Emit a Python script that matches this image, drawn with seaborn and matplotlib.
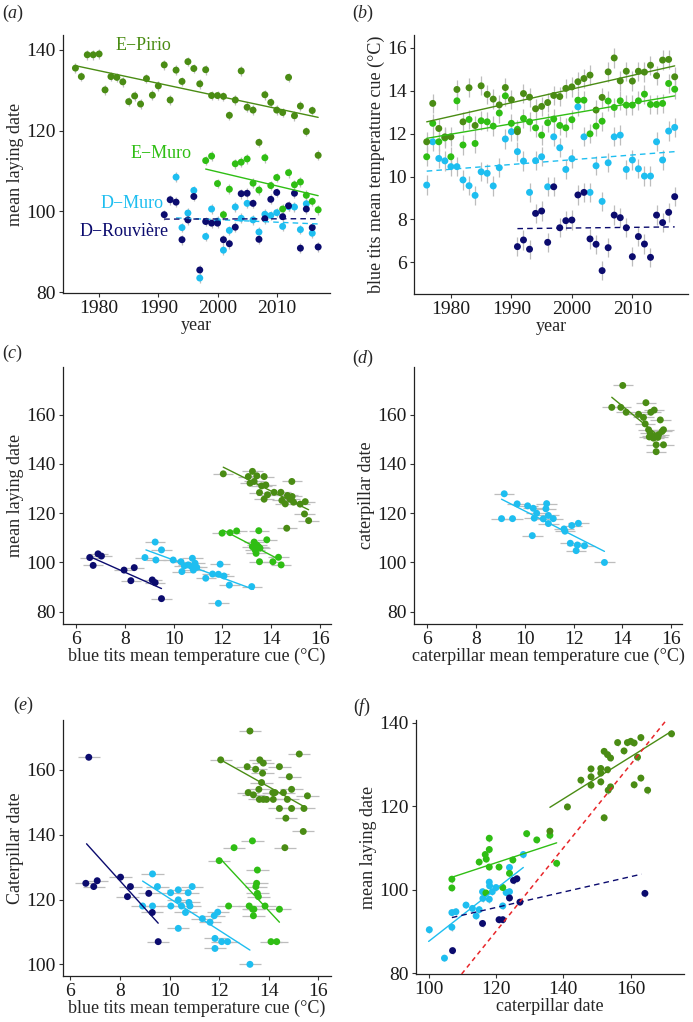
import numpy as np
import pandas as pd
import seaborn as sns
import matplotlib.pyplot as plt

sns.set_style("ticks")
plt.rcParams['font.family'] = ['Liberation Serif', 'DejaVu Serif']
plt.rcParams['mathtext.fontset'] = 'custom'
plt.rcParams['mathtext.rm'] = 'Liberation Serif'
plt.rcParams['mathtext.it'] = 'Liberation Serif:italic'

PIRIO, EMURO, DMURO, DROUV = 'E-Pirio', 'E-Muro', 'D-Muro', 'D-Rouvière'
pal = {PIRIO: '#4a8c14', EMURO: '#2fbe14', DMURO: '#1ebef0', DROUV: '#0b0b6e'}
order = [DMURO, DROUV, EMURO, PIRIO]

# ---- (a) mean laying date by year
a_years_pirio = list(range(1976, 2018))
a_pirio = [135.5, 133.4, 138.8, 138.8, 139.0, 130.1, 133.4, 133.2, 132.1, 127.2,
           128.6, 126.6, 132.9, 128.8, 131.1, 136.3, 127.6, 135.0, 132.2, 137.1,
           135.4, 131.6, 135.1, 128.7, 128.7, 128.5, 123.8, 127.6, 134.8, 125.8,
           125.1, 117.1, 128.9, 127.0, 125.1, 124.5, 133.2, 123.7, 126.1, 119.8,
           125.0, 113.9]
a_years_emuro = list(range(1998, 2018))
a_emuro = [112.6, 113.7, 106.9, 99.2, 105.5, 111.8, 112.2, 113.0, 107.0, 105.3,
           113.3, 106.4, 108.4, 100.6, 109.6, 106.6, 107.3, 104.0, 102.5, 100.4]
a_years_dmuro = list(range(1993, 2017))
a_dmuro = [108.5, 96.0, 99.6, 105.2, 83.5, 93.8, 100.6, 97.6, 90.4, 95.3,
           101.1, 98.3, 102.0, 97.9, 94.9, 99.3, 99.0, 99.7, 96.3, 101.2,
           101.1, 95.5, 101.9, 94.6]
a_years_drouv = list(range(1991, 2018))
a_drouv = [99.2, 102.9, 102.3, 93.0, 97.9, 103.7, 85.5, 97.5, 97.1, 97.1,
           93.0, 92.0, 96.1, 104.4, 104.5, 102.0, 93.1, 98.2, 103.0, 104.7,
           98.7, 101.4, 104.5, 90.9, 100.6, 96.0, 91.2]
a_fits = {PIRIO: ([1976, 2017], [136.1, 123.3]), EMURO: ([1998, 2017], [110.5, 103.9]),
          DMURO: ([1993, 2017], [98.4, 96.9]), DROUV: ([1991, 2017], [98.1, 98.2])}

# ---- (b) blue tits temperature cue by year
b_years = list(range(1976, 2018))
b_pirio = [11.62, 13.41, 12.24, 11.85, 11.85, 14.06, 12.55, 14.14, 12.38, 14.23,
           13.83, 13.61, 13.34, 14.15, 13.58, 12.09, 13.87, 13.70, 13.16, 13.27,
           13.45, 13.78, 13.73, 14.11, 14.18, 14.42, 14.57, 14.73, 13.10, 13.69,
           14.88, 15.53, 14.46, 14.91, 14.45, 14.91, 14.87, 15.19, 14.70, 15.43,
           15.46, 14.65]
b_emuro = [10.92, 12.48, 11.62, 11.80, 10.92, 13.53, 11.47, 12.66, 11.54, 12.60,
           12.55, 12.35, 12.96, 13.76, 12.48, 12.20, 12.71, 12.55, 12.27, 11.93,
           12.51, 12.68, 12.38, 12.27, 12.65, 13.56, 13.56, 11.99, 12.35, 12.58,
           13.52, 13.22, 13.53, 13.33, 13.33, 13.53, 13.84, 13.36, 13.36, 13.41,
           14.34, 14.07]
b_dmuro = [9.60, 11.62, 10.84, 10.73, 10.46, 10.46, 9.84, 9.57, 9.12, 10.22,
           10.15, 9.56, 10.41, 11.75, 12.09, 11.16, 10.72, 9.26, 10.74, 10.92,
           9.52, 11.85, 11.34, 10.33, 10.83, 13.25, 11.85, 9.26, 10.50, 8.84,
           10.64, 11.85, 11.93, 10.33, 10.77, 10.36, 10.02, 10.02, 11.62, 10.77,
           12.12, 12.29]
b_years_drouv = list(range(1991, 2018))
b_drouv = [6.73, 7.04, 6.61, 8.28, 8.39, 6.93, 9.52, 7.61, 7.94, 7.97,
           9.14, 9.26, 7.09, 6.84, 5.61, 6.68, 8.20, 8.08, 7.61, 6.26,
           7.20, 6.85, 6.23, 8.20, 7.85, 8.33, 9.06]
b_fits = {PIRIO: ([1976, 2017], [12.55, 15.16]), EMURO: ([1976, 2017], [11.78, 13.76]),
          DMURO: ([1976, 2017], [10.25, 11.16]), DROUV: ([1991, 2017], [7.57, 7.65])}

# ---- (c) laying date vs blue tits temperature cue
c_drouv_x = [6.55, 6.69, 6.89, 7.03, 7.96, 8.24, 8.38, 9.12, 9.24, 9.50]
c_drouv_y = [102.0, 98.8, 103.5, 102.6, 96.9, 92.6, 97.9, 92.9, 91.8, 85.3]
c_dmuro_x = [8.82, 9.24, 9.50, 9.27, 9.98, 10.30, 10.34, 10.44, 10.60, 10.74, 10.77,
             10.81, 10.88, 10.95, 11.32, 11.60, 11.84, 11.91, 11.84, 12.07, 12.29, 13.21]
c_dmuro_y = [102.0, 108.3, 105.1, 101.0, 101.0, 100.3, 96.3, 98.6, 99.0, 98.3, 101.7,
             96.9, 99.7, 98.0, 93.6, 95.3, 95.2, 99.3, 83.4, 94.5, 90.8, 90.2]
c_emuro_x = [11.99, 12.32, 12.59, 13.50, 13.31, 13.42, 13.24, 13.49, 13.35, 13.55,
             13.39, 13.53, 13.83, 14.08, 14.31, 14.42]
c_emuro_y = [111.9, 112.1, 112.8, 112.9, 108.3, 107.1, 106.4, 106.4, 105.1, 105.8,
             103.7, 100.3, 109.2, 100.3, 102.1, 99.0]
c_pirio_x = [12.04, 13.24, 13.07, 13.42, 13.72, 13.14, 13.31, 13.62, 13.79, 13.53,
             13.86, 13.72, 14.13, 14.41, 14.45, 14.59, 14.68, 14.79, 14.87, 14.86,
             14.93, 15.20, 15.41, 15.38, 15.55, 14.65]
c_pirio_y = [136.0, 137.0, 134.9, 135.2, 134.9, 132.2, 132.9, 131.1, 131.5, 128.4,
             127.5, 125.7, 128.5, 128.5, 125.2, 123.8, 127.2, 125.7, 126.8, 132.9,
             124.5, 123.7, 124.7, 119.7, 117.0, 113.9]
c_fits = {DROUV: ([6.55, 9.50], [102.4, 89.4]), DMURO: ([8.86, 13.28], [105.1, 89.1]),
          EMURO: ([12.02, 14.24], [113.2, 101.7]), PIRIO: ([12.04, 15.55], [138.7, 121.4])}

# ---- (d) caterpillar date vs caterpillar temperature cue
d_dmuro_x = [9.15, 9.04, 9.49, 9.68, 10.11, 10.34, 10.38, 10.48, 10.30, 10.89, 10.86,
             10.96, 10.75, 10.96, 11.16, 11.60, 11.64, 11.92, 12.19, 11.86, 12.15,
             12.10, 12.44, 13.26]
d_dmuro_y = [127.9, 117.8, 117.8, 123.8, 123.0, 122.0, 118.0, 120.0, 110.9, 123.9, 121.8,
             119.1, 117.7, 115.8, 117.8, 113.6, 112.7, 115.0, 115.9, 107.8, 107.1,
             104.8, 106.8, 100.0]
d_pirio_x = [14.01, 13.56, 13.93, 14.15, 14.66, 14.86, 14.96, 15.16, 15.30, 15.55,
             14.93, 15.07, 15.14, 15.21, 15.34, 15.48, 15.62, 15.68, 15.38, 15.68,
             15.38, 15.27, 15.45, 15.10]
d_pirio_y = [171.9, 163.0, 163.0, 161.0, 160.2, 158.9, 164.9, 161.0, 161.9, 157.9,
             156.3, 153.9, 152.5, 151.2, 151.2, 151.9, 153.2, 153.9, 147.8, 147.8,
             145.0, 150.5, 150.8, 151.0]
d_fits = {DMURO: ([9.04, 13.26], [125.7, 104.5]), PIRIO: ([13.56, 15.35], [167.1, 152.5])}

# ---- (e) caterpillar date vs blue tits temperature cue
e_drouv_x = [6.74, 6.62, 6.94, 7.08, 8.02, 8.30, 8.42, 9.16, 9.30, 9.54]
e_drouv_y = [163.9, 125.0, 124.0, 125.8, 126.9, 120.9, 124.0, 121.9, 116.0, 107.0]
e_dmuro_x = [8.91, 9.31, 9.51, 9.31, 10.04, 10.05, 10.35, 10.35, 10.35, 10.48, 10.64,
             10.75, 10.78, 10.82, 10.91, 11.32, 11.63, 11.80, 11.94, 11.83, 11.83,
             12.10, 12.34, 13.24]
e_dmuro_y = [118.0, 127.9, 124.0, 118.0, 122.1, 118.0, 123.0, 119.9, 111.1, 118.0, 116.0,
             122.1, 119.1, 118.0, 124.0, 114.1, 113.0, 115.0, 116.1, 108.0, 104.9,
             107.0, 107.0, 100.0]
e_emuro_x = [12.00, 12.60, 12.38, 13.34, 13.21, 13.35, 13.40, 13.38, 13.54, 13.51,
             13.48, 13.54, 13.58, 13.85, 14.43, 14.09, 14.32]
e_emuro_y = [132.0, 136.0, 118.0, 138.1, 118.0, 117.0, 117.0, 115.0, 129.1, 125.0,
             124.0, 121.9, 120.9, 118.0, 117.0, 107.0, 107.0]
e_pirio_x = [13.24, 12.06, 13.13, 13.17, 13.38, 13.47, 13.64, 13.78, 13.75, 13.71,
             13.60, 13.62, 13.78, 13.91, 14.18, 14.16, 14.25, 14.43, 14.59, 14.75,
             14.43, 14.83, 14.92, 14.92, 14.69, 15.23, 15.42, 15.56, 15.39, 14.65]
e_pirio_y = [172.0, 163.1, 161.0, 153.0, 152.3, 160.2, 163.1, 162.1, 159.0, 156.1,
             154.0, 150.9, 150.9, 150.9, 150.9, 153.0, 153.0, 161.0, 153.0, 150.9,
             148.1, 157.9, 154.0, 148.1, 145.1, 164.9, 148.1, 152.0, 141.0, 136.0]
e_fits = {DROUV: ([6.65, 9.54], [137.2, 112.7]), DMURO: ([8.91, 13.24], [125.7, 104.4]),
          EMURO: ([12.07, 14.43], [132.4, 113.0]), PIRIO: ([12.06, 15.42], [163.1, 148.7])}

# ---- (f) laying date vs caterpillar date
f_pirio_x = [141.2, 145.2, 148.2, 148.2, 148.2, 151.1, 151.1, 151.1, 152.1, 152.1,
             153.1, 153.3, 154.0, 154.0, 153.1, 156.1, 158.0, 159.0, 160.0, 161.0,
             161.0, 162.0, 163.0, 163.0, 165.0, 172.1, 136.0]
f_pirio_y = [119.8, 126.2, 128.9, 127.0, 125.0, 129.0, 127.9, 125.8, 117.2, 133.1,
             132.3, 123.8, 131.5, 124.6, 128.7, 135.2, 133.2, 135.2, 135.5, 135.1,
             125.1, 131.7, 136.4, 126.7, 123.8, 137.3, 114.0]
f_emuro_x = [106.9, 106.9, 115.0, 116.8, 117.1, 118.0, 118.0, 118.0, 117.0, 120.9,
             122.0, 125.0, 124.0, 129.1, 132.1, 136.0, 138.0]
f_emuro_y = [102.5, 100.4, 106.6, 108.4, 107.3, 112.3, 109.6, 105.4, 99.2, 105.4,
             100.5, 107.1, 103.9, 113.4, 111.9, 113.0, 106.3]
f_dmuro_x = [100.2, 104.7, 106.9, 108.1, 106.9, 111.1, 113.0, 114.1, 115.0, 116.0,
             116.1, 118.0, 118.1, 118.0, 118.9, 120.0, 122.0, 123.0, 124.0, 124.0, 128.1]
f_dmuro_y = [90.4, 83.6, 94.5, 94.7, 91.0, 96.3, 95.5, 93.7, 95.2, 99.5,
             97.9, 101.8, 100.9, 97.7, 99.5, 100.5, 96.1, 99.3, 99.5, 105.3, 108.4]
f_drouv_x = [107.1, 116.0, 120.9, 122.0, 124.0, 125.2, 126.2, 127.1, 164.2]
f_drouv_y = [85.4, 91.9, 92.8, 92.8, 98.0, 102.2, 102.6, 97.0, 99.1]
f_fits = {PIRIO: ([136.0, 172.1], [119.7, 137.9]), EMURO: ([106.7, 138.0], [102.9, 111.2]),
          DMURO: ([100.0, 128.1], [87.6, 105.3]), DROUV: ([106.9, 163.2], [93.3, 103.7])}
# 1:1 reference line shifted by 30 days
red_x = [109.8, 170.6]
red_offset = 30

# error bar half-widths (rough, per panel)
err = {'a': 1.2, 'b': 0.45, 'c': 0.42, 'd': 0.42, 'e': 0.45, 'f': 0.8}

W, H = 693, 1022
TICK_FS, LAB_FS = 14, 13
fig = plt.figure(figsize=(W / 100, H / 100), dpi=100)


def make_ax(l, r, t, b):
    return fig.add_axes([l / W, 1 - b / H, (r - l) / W, (b - t) / H])


def frame(df, fits, ax, e, horiz, dashed=()):
    for pop in order:
        sub = df[df['pop'] == pop]
        if len(sub) == 0:
            continue
        if horiz:
            ax.errorbar(sub['x'], sub['y'], xerr=e, fmt='none', ecolor='#bdbdbd',
                        elinewidth=0.9, zorder=1)
        else:
            ax.errorbar(sub['x'], sub['y'], yerr=e, fmt='none', ecolor='#bdbdbd',
                        elinewidth=0.9, zorder=1)
    df = df.assign(o=df['pop'].map({p: i for i, p in enumerate(order)})).sort_values('o', kind='stable')
    sns.scatterplot(data=df, x='x', y='y', hue='pop', palette=pal, s=25, linewidth=0,
                    legend=False, ax=ax, zorder=3)
    for pop, (fx, fy) in fits.items():
        ax.plot(fx, fy, color=pal[pop], lw=1.0, zorder=4,
                ls=(0, (4, 3)) if pop in dashed else '-')
    sns.despine(ax=ax)
    for s in ['left', 'bottom']:
        ax.spines[s].set_color('#222222')
        ax.spines[s].set_linewidth(0.9)
    ax.tick_params(length=3, width=0.8, color='#333333', labelsize=TICK_FS, pad=2,
                   labelcolor='#1a1a1a')


def long(pairs):
    rows = []
    for pop, xs, ys in pairs:
        rows.append(pd.DataFrame({'x': xs, 'y': ys, 'pop': pop}))
    return pd.concat(rows, ignore_index=True)


# (a)
ax = make_ax(63, 330, 35, 293)
df_a = long([(PIRIO, a_years_pirio, a_pirio), (EMURO, a_years_emuro, a_emuro),
             (DMURO, a_years_dmuro, a_dmuro), (DROUV, a_years_drouv, a_drouv)])
frame(df_a, a_fits, ax, err['a'], False, dashed=(DMURO, DROUV))
ax.set_xlim(1973.9, 2019.0)
ax.set_ylim(79.8, 143.7)
ax.set_xticks([1980, 1990, 2000, 2010])
ax.set_yticks([80, 100, 120, 140])
ax.set_xlabel('year', fontsize=LAB_FS, labelpad=0)
ax.set_ylabel('mean laying date', fontsize=LAB_FS, labelpad=2)
ax.text(1987.5, 141.2, 'E−Pirio', color=pal[PIRIO], fontsize=13, ha='center', va='center')
ax.text(1990.5, 114.3, 'E−Muro', color=pal[EMURO], fontsize=13, ha='center', va='center')
ax.text(1985.5, 102.0, 'D−Muro', color=pal[DMURO], fontsize=13, ha='center', va='center')
ax.text(1984.3, 95.0, 'D−Rouvière', color=pal[DROUV], fontsize=13, ha='center', va='center')

# (b)
ax = make_ax(414, 688, 35, 294)
df_b = long([(PIRIO, b_years, b_pirio), (EMURO, b_years, b_emuro),
             (DMURO, b_years, b_dmuro), (DROUV, b_years_drouv, b_drouv)])
frame(df_b, b_fits, ax, err['b'], False, dashed=(DMURO, DROUV))
ax.set_xlim(1973.9, 2019.2)
ax.set_ylim(4.52, 16.6)
ax.set_xticks([1980, 1990, 2000, 2010])
ax.set_yticks([6, 8, 10, 12, 14, 16])
ax.set_xlabel('year', fontsize=LAB_FS, labelpad=0)
ax.set_ylabel('blue tits mean temperature cue (°C)', fontsize=LAB_FS, labelpad=2)

# (c)
ax = make_ax(63, 331, 367, 624)
df_c = long([(PIRIO, c_pirio_x, c_pirio_y), (EMURO, c_emuro_x, c_emuro_y),
             (DMURO, c_dmuro_x, c_dmuro_y), (DROUV, c_drouv_x, c_drouv_y)])
frame(df_c, c_fits, ax, err['c'], True)
ax.set_xlim(5.45, 16.47)
ax.set_ylim(75.0, 179.4)
ax.set_xticks([6, 8, 10, 12, 14, 16])
ax.set_yticks([80, 100, 120, 140, 160])
ax.set_xlabel('blue tits mean temperature cue (°C)', fontsize=LAB_FS, labelpad=0)
ax.set_ylabel('mean laying date', fontsize=LAB_FS, labelpad=2)

# (d)
ax = make_ax(414, 682, 367, 624)
df_d = long([(PIRIO, d_pirio_x, d_pirio_y), (DMURO, d_dmuro_x, d_dmuro_y)])
frame(df_d, d_fits, ax, err['d'], True)
ax.set_xlim(5.45, 16.44)
ax.set_ylim(75.0, 179.4)
ax.set_xticks([6, 8, 10, 12, 14, 16])
ax.set_yticks([80, 100, 120, 140, 160])
ax.set_xlabel('caterpillar mean temperature cue (°C)', fontsize=LAB_FS, labelpad=0)
ax.set_ylabel('caterpillar date', fontsize=LAB_FS, labelpad=2)

# (e)
ax = make_ax(63, 331, 720, 976)
df_e = long([(PIRIO, e_pirio_x, e_pirio_y), (EMURO, e_emuro_x, e_emuro_y),
             (DMURO, e_dmuro_x, e_dmuro_y), (DROUV, e_drouv_x, e_drouv_y)])
frame(df_e, e_fits, ax, err['e'], True)
ax.set_xlim(5.70, 16.51)
ax.set_ylim(96.4, 175.4)
ax.set_xticks([6, 8, 10, 12, 14, 16])
ax.set_yticks([100, 120, 140, 160])
ax.set_xlabel('blue tits mean temperature cue (°C)', fontsize=LAB_FS, labelpad=0)
ax.set_ylabel('Caterpillar date', fontsize=LAB_FS, labelpad=2)

# (f)
ax = make_ax(416, 684, 720, 974)
df_f = long([(PIRIO, f_pirio_x, f_pirio_y), (EMURO, f_emuro_x, f_emuro_y),
             (DMURO, f_dmuro_x, f_dmuro_y), (DROUV, f_drouv_x, f_drouv_y)])
frame(df_f, f_fits, ax, err['f'], False, dashed=(DROUV,))
ax.plot(red_x, [v - red_offset for v in red_x], color='#e8262a', lw=1.1,
        ls=(0, (3, 2.5)), zorder=5)
ax.set_xlim(96.25, 175.8)
ax.set_ylim(79.8, 140.6)
ax.set_xticks([100, 120, 140, 160])
ax.set_yticks([80, 100, 120, 140])
ax.set_xlabel('caterpillar date', fontsize=LAB_FS, labelpad=0)
ax.set_ylabel('mean laying date', fontsize=LAB_FS, labelpad=2)

# panel letters
for lab, px, py in [('a', 2, 13), ('b', 352, 13), ('c', 2, 353),
                    ('d', 352, 358), ('e', 13, 705), ('f', 353, 707)]:
    fig.text(px / W, 1 - py / H, '($' + lab + '$)', fontsize=13, ha='left', va='center')

fig.savefig('out.png', dpi=100)
